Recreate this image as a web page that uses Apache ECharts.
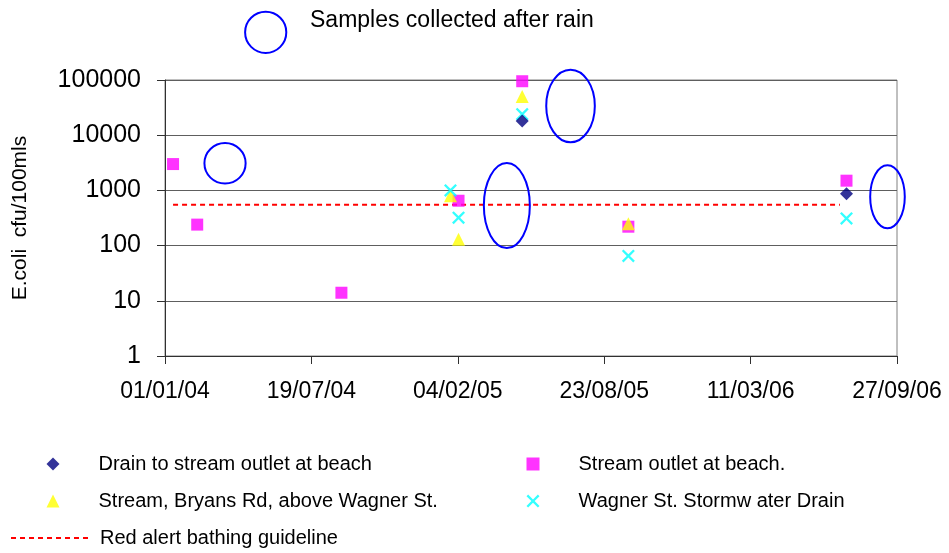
<!DOCTYPE html>
<html>
<head>
<meta charset="utf-8">
<title>E.coli sampling results</title>
<script src="https://cdn.jsdelivr.net/npm/echarts@6/dist/echarts.min.js"></script>
<style>
  html, body { margin: 0; padding: 0; background: #ffffff; }
  #chart { width: 949px; height: 553px; }
</style>
</head>
<body>
<div id="chart"></div>
<script>
// Sampling dates and E.coli counts (cfu/100mls) for each site
const drainDates = ['2005-05-03', '2006-07-20'];
const drainValues = [18000, 870];

const outletDates = ['2004-01-12', '2004-02-14', '2004-08-29', '2005-02-05', '2005-05-03', '2005-09-25', '2006-07-20'];
const outletValues = [3000, 240, 14, 650, 95000, 220, 1500];

const bryansDates = ['2005-01-25', '2005-02-05', '2005-05-03', '2005-09-25'];
const bryansValues = [800, 130, 50000, 250];

const wagnerDates = ['2005-01-25', '2005-02-05', '2005-05-03', '2005-09-25', '2006-07-20'];
const wagnerValues = [1000, 320, 24000, 65, 310];

// Red alert bathing guideline
const guidelineDates = ['2004-01-12', '2006-07-11'];
const guidelineValue = 550;

// Groups of samples taken after rain (centre of each marked group)
const rainDates = ['2004-03-23', '2005-04-12', '2005-07-08', '2006-09-14'];
const rainValues = [3100, 530, 33900, 765];

const seriesNames = [
  'Drain to stream outlet at beach',
  'Stream outlet at beach.',
  'Stream, Bryans Rd, above Wagner St.',
  'Wagner St. Stormw ater Drain',
  'Red alert bathing guideline'
];
const rainLabel = 'Samples collected after rain';

// x axis runs in days from 1 Jan 2004
const ORIGIN = Date.UTC(2004, 0, 1);
const DAY = 86400000;
function dayOf(s) {
  const p = s.split('-').map(Number);
  return (Date.UTC(p[0], p[1] - 1, p[2]) - ORIGIN) / DAY;
}
function pad(n) { return (n < 10 ? '0' : '') + n; }
function dateLabel(day) {
  const d = new Date(ORIGIN + Math.round(day) * DAY);
  return pad(d.getUTCDate()) + '/' + pad(d.getUTCMonth() + 1) + '/' + pad(d.getUTCFullYear() % 100);
}
function pairs(dates, values) {
  return dates.map((d, i) => [dayOf(d), values[i]]);
}

// half-widths / half-heights (px) of the rain outlines
const rainRadii = [[20.6, 20.3], [23, 42.5], [24.3, 36.3], [17.3, 31.5]];

const FONT = '"Liberation Sans", Arial, sans-serif';
const crossSymbol = 'path://M0,1.5L1.5,0L6,4.5L10.5,0L12,1.5L7.5,6L12,10.5L10.5,12L6,7.5L1.5,12L0,10.5L4.5,6Z';

const chart = echarts.init(document.getElementById('chart'), null, { renderer: 'canvas' });

// one legend block per entry; marker icons are 13px with the text pushed right
function markerLegend(name, left, top) {
  return {
    data: [name],
    left: left,
    top: top,
    padding: 0,
    itemWidth: 13,
    itemHeight: 13,
    selectedMode: false,
    textStyle: { fontFamily: FONT, fontSize: 20, color: '#000000', padding: [0, 0, 0, 34] }
  };
}

const option = {
  animation: false,
  backgroundColor: '#ffffff',
  grid: {
    left: 165, right: 52, top: 80, bottom: 197,
    show: true, borderColor: '#808080', borderWidth: 1, backgroundColor: 'transparent'
  },
  xAxis: {
    type: 'value',
    min: 0, max: 1000, interval: 200,
    axisLine: { show: true, lineStyle: { color: '#303030', width: 1 } },
    axisTick: { show: true, inside: false, length: 8, lineStyle: { color: '#303030' } },
    splitLine: { show: false },
    axisLabel: {
      margin: 24,
      fontFamily: FONT, fontSize: 23, color: '#000000',
      showMinLabel: true, showMaxLabel: true,
      formatter: v => dateLabel(v)
    }
  },
  yAxis: {
    type: 'log', logBase: 10,
    min: 1, max: 100000,
    name: 'E.coli  cfu/100mls',
    nameLocation: 'middle',
    nameGap: 134,
    nameTextStyle: { fontFamily: FONT, fontSize: 21, color: '#000000' },
    axisLine: { show: true, lineStyle: { color: '#303030', width: 1 } },
    axisTick: { show: true, inside: false, length: 8, lineStyle: { color: '#303030' } },
    splitLine: { show: true, lineStyle: { color: '#5e5e5e', width: 1 } },
    minorTick: { show: false },
    axisLabel: {
      margin: 24,
      fontFamily: FONT, fontSize: 25, color: '#000000',
      formatter: v => String(Math.round(v))
    }
  },
  legend: [
    markerLegend(seriesNames[0], 46.5, 454),
    markerLegend(seriesNames[1], 526.5, 454),
    markerLegend(seriesNames[2], 46.5, 491),
    markerLegend(seriesNames[3], 526.5, 491),
    {
      data: [seriesNames[4]],
      left: 10, top: 528,
      padding: 0,
      itemWidth: 78, itemHeight: 13,
      selectedMode: false,
      itemStyle: { opacity: 0 },
      textStyle: { fontFamily: FONT, fontSize: 20, color: '#000000', padding: [0, 0, 0, 6] }
    }
  ],
  graphic: [
    {
      type: 'circle',
      shape: { cx: 265.7, cy: 32.3, r: 20.6 },
      style: { fill: 'none', stroke: '#0000ff', lineWidth: 2 }
    },
    {
      type: 'text',
      left: 310, top: 9,
      style: { text: rainLabel, font: '23px ' + FONT, fill: '#000000' }
    }
  ],
  series: [
    {
      name: seriesNames[1], type: 'scatter',
      data: pairs(outletDates, outletValues),
      symbol: 'rect', symbolSize: 12,
      itemStyle: { color: '#ff00ff' }, z: 2
    },
    {
      name: seriesNames[2], type: 'scatter',
      data: pairs(bryansDates, bryansValues),
      symbol: 'triangle', symbolSize: 13,
      itemStyle: { color: '#ffff00' }, z: 3
    },
    {
      name: seriesNames[3], type: 'scatter',
      data: pairs(wagnerDates, wagnerValues),
      symbol: crossSymbol, symbolSize: 13,
      itemStyle: { color: '#00ffff' }, z: 4
    },
    {
      name: seriesNames[0], type: 'scatter',
      data: pairs(drainDates, drainValues),
      symbol: 'diamond', symbolSize: 13,
      itemStyle: { color: '#000080' }, z: 5
    },
    {
      name: seriesNames[4], type: 'line',
      data: guidelineDates.map(d => [dayOf(d), guidelineValue]),
      symbol: 'none', showSymbol: false,
      lineStyle: { color: '#ff0000', width: 2, type: [5, 4] },
      itemStyle: { color: '#ff0000' }, z: 1
    },
    {
      name: rainLabel, type: 'custom',
      data: pairs(rainDates, rainValues),
      clip: false, z: 6,
      renderItem: function (params, api) {
        const c = api.coord([api.value(0), api.value(1)]);
        const r = rainRadii[params.dataIndex];
        return {
          type: 'ellipse',
          shape: { cx: c[0], cy: c[1], rx: r[0], ry: r[1] },
          style: { fill: 'none', stroke: '#0000ff', lineWidth: 2 }
        };
      }
    }
  ]
};

chart.setOption(option);
</script>
</body>
</html>
